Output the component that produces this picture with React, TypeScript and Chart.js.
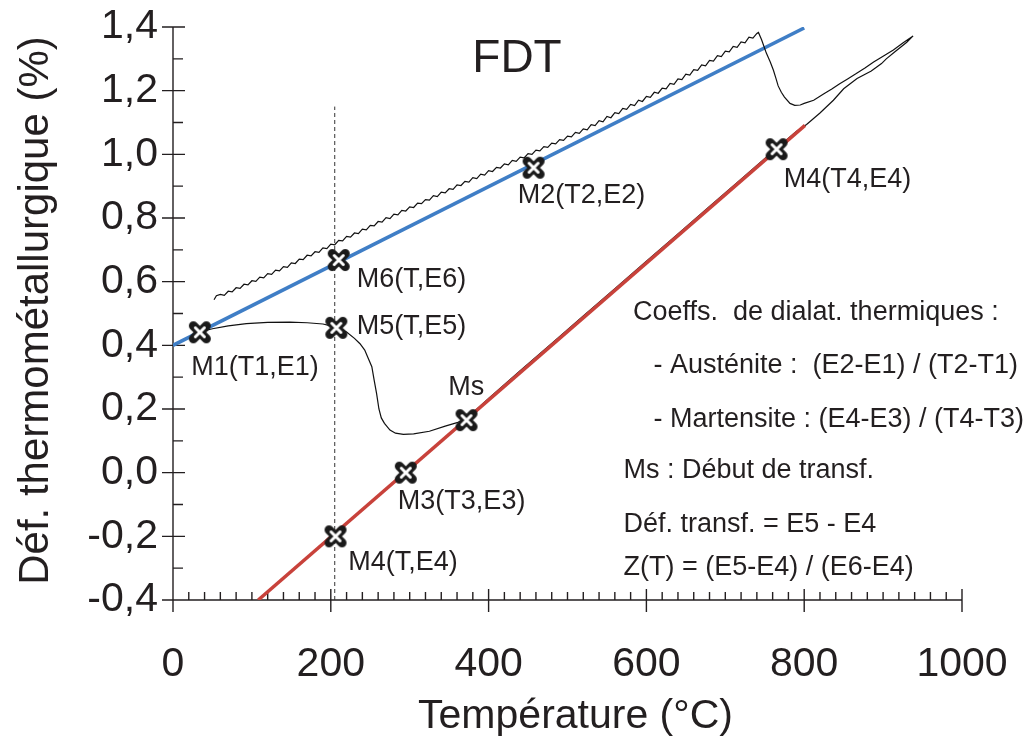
import React, { useEffect, useRef } from 'react';
import { Chart, registerables } from 'chart.js';

Chart.register(...registerables);

// ---------- data ----------
const X_TICKS = [0, 200, 400, 600, 800, 1000];
const X_TICK_LABELS = ['0', '200', '400', '600', '800', '1000'];
const Y_TICKS = [-0.4, -0.2, 0, 0.2, 0.4, 0.6, 0.8, 1.0, 1.2, 1.4];
const Y_TICK_LABELS = ['-0,4', '-0,2', '0,0', '0,2', '0,4', '0,6', '0,8', '1,0', '1,2', '1,4'];

// measured curve: heating (with ripples), austenitisation, then cooling
const heatingT = [
  52, 55, 60, 65, 70, 75, 80, 85, 90, 95,
  100, 105, 110, 115, 120, 125, 130, 135, 140, 145,
  150, 155, 160, 165, 170, 175, 180, 185, 190, 195,
  200, 205, 210, 215, 220, 225, 230, 235, 240, 245,
  250, 255, 260, 265, 270, 275, 280, 285, 290, 295,
  300, 305, 310, 315, 320, 325, 330, 335, 340, 345,
  350, 355, 360, 365, 370, 375, 380, 385, 390, 395,
  400, 405, 410, 415, 420, 425, 430, 435, 440, 445,
  450, 455, 460, 465, 470, 475, 480, 485, 490, 495,
  500, 505, 510, 515, 520, 525, 530, 535, 540, 545,
  550, 555, 560, 565, 570, 575, 580, 585, 590, 595,
  600, 605, 610, 615, 620, 625, 630, 635, 640, 645,
  650, 655, 660, 665, 670, 675, 680, 685, 690, 695,
  700, 705, 710, 715, 720, 725, 730, 735, 740, 742,
  746, 752, 757, 761, 764, 767, 771, 775, 782, 788,
  795, 800, 812, 825, 835, 845, 855, 865, 877, 888,
  900, 913, 925, 938,
];
const heatingE = [
  0.543, 0.556, 0.560, 0.557, 0.570, 0.568, 0.581, 0.579, 0.592, 0.590,
  0.603, 0.601, 0.614, 0.612, 0.625, 0.623, 0.636, 0.634, 0.647, 0.645,
  0.659, 0.657, 0.671, 0.669, 0.683, 0.681, 0.694, 0.692, 0.706, 0.704,
  0.718, 0.716, 0.730, 0.728, 0.742, 0.740, 0.753, 0.751, 0.765, 0.763,
  0.777, 0.775, 0.789, 0.787, 0.801, 0.798, 0.812, 0.810, 0.824, 0.822,
  0.835, 0.833, 0.847, 0.845, 0.858, 0.856, 0.870, 0.867, 0.881, 0.879,
  0.892, 0.890, 0.904, 0.902, 0.915, 0.913, 0.927, 0.924, 0.938, 0.935,
  0.949, 0.946, 0.959, 0.957, 0.970, 0.967, 0.981, 0.978, 0.991, 0.989,
  1.002, 1.000, 1.013, 1.011, 1.024, 1.022, 1.035, 1.033, 1.046, 1.044,
  1.057, 1.055, 1.069, 1.066, 1.080, 1.077, 1.093, 1.090, 1.106, 1.102,
  1.119, 1.115, 1.131, 1.128, 1.144, 1.141, 1.157, 1.153, 1.170, 1.166,
  1.182, 1.179, 1.195, 1.192, 1.208, 1.206, 1.223, 1.220, 1.237, 1.235,
  1.252, 1.249, 1.266, 1.264, 1.281, 1.278, 1.295, 1.293, 1.310, 1.307,
  1.324, 1.322, 1.339, 1.336, 1.353, 1.350, 1.368, 1.365, 1.380, 1.383,
  1.360, 1.318, 1.290, 1.264, 1.240, 1.215, 1.195, 1.180, 1.160, 1.154,
  1.155, 1.160, 1.170, 1.190, 1.205, 1.222, 1.237, 1.252, 1.271, 1.290,
  1.308, 1.328, 1.350, 1.372,
];
const coolingT = [
  930, 915, 904, 898, 885, 867, 850, 837, 820, 803,
  790, 760, 720, 680, 640, 600, 560, 520, 480, 440,
  400, 372, 360, 345, 325, 305, 292, 282, 275, 268,
  264, 261, 258, 255, 252, 247, 243, 237, 230, 220,
  212, 205, 190, 170, 148, 120, 93, 70, 50, 34,
];
const coolingE = [
  1.352, 1.322, 1.300, 1.285, 1.262, 1.238, 1.206, 1.170, 1.130, 1.094,
  1.072, 1.008, 0.922, 0.836, 0.750, 0.664, 0.578, 0.492, 0.406, 0.320,
  0.233, 0.170, 0.157, 0.146, 0.130, 0.122, 0.120, 0.124, 0.134, 0.155,
  0.172, 0.200, 0.249, 0.290, 0.333, 0.362, 0.385, 0.405, 0.422, 0.442,
  0.452, 0.458, 0.467, 0.471, 0.473, 0.472, 0.468, 0.461, 0.452, 0.442,
];

// fitted straight lines
const austeniteT = [0, 800];
const austeniteE = [0.40, 1.397];
const martensiteT = [108, 801];
const martensiteE = [-0.40, 1.091];

// vertical reference at temperature T
const refT = [205, 205];
const refE = [-0.4, 1.15];

// characteristic points
const markerT = [34, 210, 207, 457, 372, 295, 206, 765];
const markerE = [0.441, 0.668, 0.455, 0.958, 0.165, 0.0, -0.2, 1.016];

// point labels (left / baseline anchor in data units)
const pointLabels = ['M1(T1,E1)', 'M6(T,E6)', 'M5(T,E5)', 'M2(T2,E2)', 'Ms', 'M3(T3,E3)', 'M4(T,E4)', 'M4(T4,E4)'];
const pointLabelT = [23, 233, 233, 437, 349, 285, 222, 774];
const pointLabelE = [0.306, 0.584, 0.435, 0.846, 0.244, -0.113, -0.306, 0.898];

// explanatory notes
const noteLines = [
  'Coeffs.  de dialat. thermiques :',
  '- Austénite :  (E2-E1) / (T2-T1)',
  '- Martensite : (E4-E3) / (T4-T3)',
  'Ms : Début de transf.',
  'Déf. transf. = E5 - E4',
  'Z(T) = (E5-E4) / (E6-E4)',
];
const noteT = [583, 609, 609, 571, 571, 571];
const noteE = [0.479, 0.314, 0.144, -0.018, -0.186, -0.322];

const TITLE = 'FDT';
const TITLE_T = 436;
const TITLE_E = 1.259;
const X_TITLE = 'Température (°C)';
const Y_TITLE = 'Déf. thermométallurgique (%)';

// ---------- styles ----------
const FONT = "'Liberation Sans', Arial, Helvetica, sans-serif";
const TEXT = '#231f20';
const BLUE = '#3f7ec6';
const RED = '#c8423b';

function makeMarker(): HTMLCanvasElement {
  const c = document.createElement('canvas');
  c.width = 26;
  c.height = 26;
  const g = c.getContext('2d') as CanvasRenderingContext2D;
  g.lineCap = 'round';
  g.strokeStyle = '#1a1a1a';
  g.lineWidth = 9;
  g.beginPath();
  g.moveTo(6.5, 6.5); g.lineTo(19.5, 19.5);
  g.moveTo(19.5, 6.5); g.lineTo(6.5, 19.5);
  g.stroke();
  g.strokeStyle = '#ffffff';
  g.lineWidth = 3;
  g.beginPath();
  g.moveTo(8.5, 8.5); g.lineTo(17.5, 17.5);
  g.moveTo(17.5, 8.5); g.lineTo(8.5, 17.5);
  g.stroke();
  return c;
}

const pts = (ts: number[], es: number[]) => ts.map((t, i) => ({ x: t, y: es[i] }));

const axesPlugin = {
  id: 'customAxes',
  beforeDatasetsDraw(chart: any) {
    const { ctx, scales } = chart;
    const xs = scales.x;
    const ys = scales.y;
    const x0 = xs.getPixelForValue(X_TICKS[0]);
    const xEnd = xs.getPixelForValue(X_TICKS[X_TICKS.length - 1]);
    const yb = ys.getPixelForValue(Y_TICKS[0]);
    const yTop = ys.getPixelForValue(Y_TICKS[Y_TICKS.length - 1]);
    ctx.save();
    ctx.strokeStyle = TEXT;
    ctx.lineWidth = 1.4;
    ctx.beginPath();
    ctx.moveTo(x0, yTop);
    ctx.lineTo(x0, yb + 12);
    ctx.moveTo(x0 - 11, yb);
    ctx.lineTo(xEnd, yb);
    for (let i = 0; i < Y_TICKS.length; i++) {
      const p = ys.getPixelForValue(Y_TICKS[i]);
      ctx.moveTo(x0 - 11, p);
      ctx.lineTo(x0 + 12, p);
      if (i < Y_TICKS.length - 1) {
        const m = ys.getPixelForValue((Y_TICKS[i] + Y_TICKS[i + 1]) / 2);
        ctx.moveTo(x0, m);
        ctx.lineTo(x0 + 10, m);
      }
    }
    for (let i = 0; i < X_TICKS.length; i++) {
      const p = xs.getPixelForValue(X_TICKS[i]);
      ctx.moveTo(p, yb - 11);
      ctx.lineTo(p, yb + 12);
      if (i < X_TICKS.length - 1) {
        const step = (X_TICKS[i + 1] - X_TICKS[i]) / 10;
        for (let k = 1; k < 10; k++) {
          const m = xs.getPixelForValue(X_TICKS[i] + k * step);
          ctx.moveTo(m, yb - 8);
          ctx.lineTo(m, yb);
        }
      }
    }
    ctx.stroke();
    ctx.restore();
  },
  afterDatasetsDraw(chart: any) {
    const { ctx, scales, chartArea } = chart;
    const xs = scales.x;
    const ys = scales.y;
    ctx.save();
    ctx.fillStyle = TEXT;
    ctx.textBaseline = 'alphabetic';
    ctx.textAlign = 'left';
    ctx.font = `27px ${FONT}`;
    pointLabels.forEach((s, i) => {
      ctx.fillText(s, xs.getPixelForValue(pointLabelT[i]), ys.getPixelForValue(pointLabelE[i]));
    });
    noteLines.forEach((s, i) => {
      ctx.fillText(s, xs.getPixelForValue(noteT[i]), ys.getPixelForValue(noteE[i]));
    });
    ctx.textAlign = 'center';
    ctx.font = `46px ${FONT}`;
    ctx.fillText(TITLE, xs.getPixelForValue(TITLE_T), ys.getPixelForValue(TITLE_E));
    ctx.font = `41px ${FONT}`;
    ctx.fillText(X_TITLE, (chartArea.left + chartArea.right) / 2 + 8, chartArea.bottom + 128);
    ctx.save();
    ctx.translate(chartArea.left - 137, (chartArea.top + chartArea.bottom) / 2 - 3);
    ctx.rotate(-Math.PI / 2);
    ctx.textBaseline = 'middle';
    ctx.font = `42px ${FONT}`;
    ctx.fillText(Y_TITLE, 0, 0);
    ctx.restore();
    ctx.restore();
  },
};

export default function App() {
  const ref = useRef<HTMLCanvasElement>(null);
  useEffect(() => {
    const canvas = ref.current;
    if (!canvas) return;
    const marker = makeMarker();
    const chart = new Chart(canvas, {
      type: 'scatter',
      data: {
        datasets: [
          {
            label: 'Points',
            data: pts(markerT, markerE),
            pointStyle: marker as any,
            pointRadius: 11,
            showLine: false,
            order: 0,
          },
          {
            label: 'Martensite',
            data: pts(martensiteT, martensiteE),
            showLine: true,
            borderColor: RED,
            borderWidth: 3.5,
            pointRadius: 0,
            tension: 0,
            order: 1,
          },
          {
            label: 'Mesure',
            data: pts(heatingT.concat(coolingT), heatingE.concat(coolingE)),
            showLine: true,
            borderColor: '#111111',
            borderWidth: 1.2,
            pointRadius: 0,
            tension: 0,
            order: 2,
          },
          {
            label: 'Austénite',
            data: pts(austeniteT, austeniteE),
            showLine: true,
            borderColor: BLUE,
            borderWidth: 3.5,
            pointRadius: 0,
            tension: 0,
            order: 3,
          },
          {
            label: 'T',
            data: pts(refT, refE),
            showLine: true,
            borderColor: '#333333',
            borderWidth: 1,
            borderDash: [4, 3],
            pointRadius: 0,
            order: 4,
          },
        ],
      },
      options: {
        animation: false,
        responsive: false,
        maintainAspectRatio: false,
        events: [],
        layout: { padding: { top: 27, right: 74, left: 0, bottom: 0 } },
        plugins: {
          legend: { display: false },
          tooltip: { enabled: false },
          title: { display: false },
        },
        scales: {
          x: {
            type: 'linear',
            min: 0,
            max: 1000,
            afterBuildTicks: (s: any) => { s.ticks = X_TICKS.map((v) => ({ value: v })); },
            afterFit: (s: any) => { s.height = 140; },
            grid: { display: false, drawTicks: true, tickLength: 40 },
            border: { display: false },
            ticks: {
              autoSkip: false,
              maxRotation: 0,
              minRotation: 0,
              padding: 0,
              color: TEXT,
              font: { family: FONT, size: 41 },
              callback: (_v: any, i: number) => X_TICK_LABELS[i],
            },
          },
          y: {
            type: 'linear',
            min: -0.4,
            max: 1.4,
            afterBuildTicks: (s: any) => { s.ticks = Y_TICKS.map((v) => ({ value: v })); },
            afterFit: (s: any) => { s.width = 173; },
            grid: { display: false, drawTicks: true, tickLength: 15 },
            border: { display: false },
            ticks: {
              autoSkip: false,
              padding: 0,
              color: TEXT,
              font: { family: FONT, size: 41 },
              callback: (_v: any, i: number) => Y_TICK_LABELS[i],
            },
          },
        },
      },
      plugins: [axesPlugin],
    });
    return () => chart.destroy();
  }, []);
  return (
    <div style={{ position: 'absolute', left: 0, top: 0, width: 1036, height: 740, background: '#ffffff' }}>
      <canvas ref={ref} width={1036} height={740} style={{ display: 'block', width: 1036, height: 740 }} />
    </div>
  );
}
